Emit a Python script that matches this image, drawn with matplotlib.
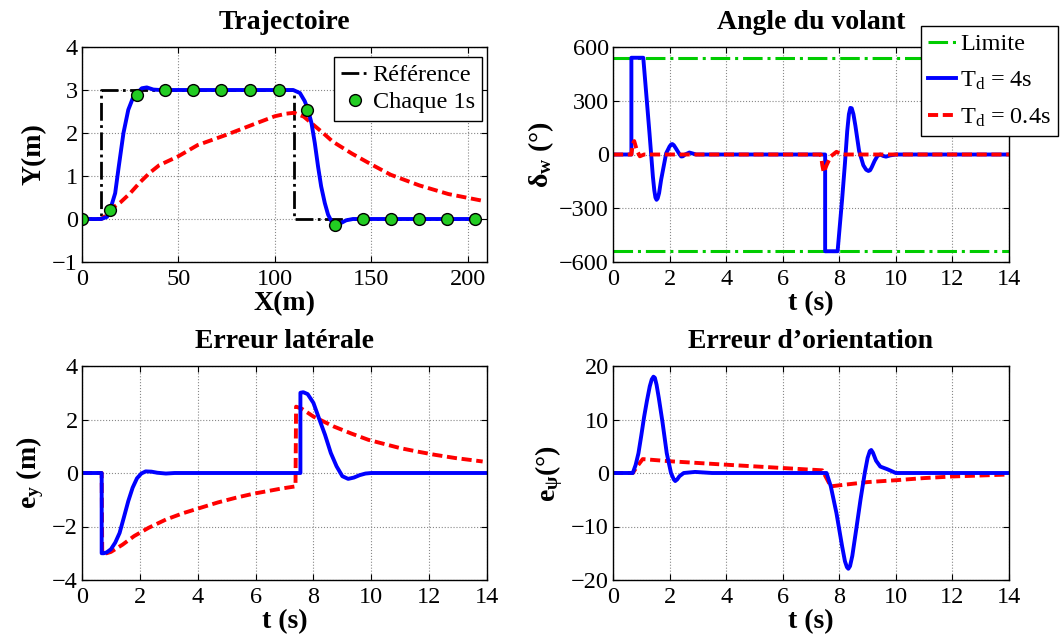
import matplotlib
matplotlib.use("Agg")
import matplotlib.pyplot as plt

plt.rcParams['font.family'] = ['Liberation Serif', 'DejaVu Serif']
plt.rcParams['mathtext.fontset'] = 'custom'
plt.rcParams['mathtext.rm'] = 'Liberation Serif'
plt.rcParams['mathtext.it'] = 'Liberation Serif:italic'
plt.rcParams['mathtext.bf'] = 'Liberation Serif:bold'

# ---------------- Data ----------------
# Trajectory (X, Y in m)
ref_x = [0, 10, 10, 110, 110, 205]
ref_y = [0, 0, 3, 3, 0, 0]

traj_blue_x = [0, 10, 13, 14.7, 17.2, 19, 21.5, 24, 26.7, 28.4, 31, 33.6, 37, 40.5, 60, 100, 109.5,
               113, 115.5, 117.2, 119, 120.7, 122.4, 124, 125.9, 127.6, 129.3, 131, 133.6, 137, 140.5, 160, 205]
traj_blue_y = [0, 0, 0.05, 0.23, 0.6, 1.2, 2.0, 2.54, 2.85, 2.92, 3.04, 3.06, 3.01, 3.0, 3.0, 3.0, 3.0,
               2.93, 2.74, 2.54, 2.23, 1.77, 1.22, 0.76, 0.37, 0.1, -0.05, -0.13, -0.11, -0.03, 0, 0, 0]

traj_red_x = [0, 10, 12, 15, 20, 25, 30, 35, 40, 50, 60, 75, 90, 100, 106, 110, 115, 120, 125, 130,
              140, 150, 160, 175, 190, 207]
traj_red_y = [0, 0, 0.07, 0.23, 0.39, 0.6, 0.85, 1.07, 1.25, 1.46, 1.72, 1.96, 2.22, 2.39, 2.45, 2.47,
              2.38, 2.19, 2.0, 1.80, 1.52, 1.27, 1.03, 0.78, 0.58, 0.43]

dots_x = [0, 14.6, 28.5, 43, 57.5, 72, 87, 102, 116.5, 131, 145.5, 160, 174.5, 189, 204]
dots_y = [0, 0.22, 2.88, 3.0, 3.0, 3.0, 3.0, 3.0, 2.53, -0.13, 0, 0, 0, 0, 0]

# Steering wheel angle (deg)
limit_t = [0, 14]
limit_hi = [540, 540]
limit_lo = [-540, -540]

dw_blue_t = [0, 0.65, 0.65, 1.07, 1.18, 1.29, 1.41, 1.46, 1.50, 1.54, 1.58, 1.63, 1.7, 1.88, 2.0,
             2.06, 2.1, 2.15, 2.22, 2.29, 2.35, 2.41, 2.47, 2.55, 2.7, 2.94,
             7.5, 7.5, 7.94, 8.1, 8.2, 8.28, 8.34, 8.39, 8.44, 8.5, 8.57, 8.7, 8.85, 8.95, 9.03,
             9.09, 9.15, 9.25, 9.35, 9.45, 9.55, 9.65, 9.8, 10.0, 14]
dw_blue_v = [0, 0, 540, 540, 330, 119, -123, -200, -240, -253, -245, -215, -142, 7, 45,
             57, 58, 52, 35, 17, 2, -11, -10, 0, 11, 0,
             0, -540, -540, -250, -50, 130, 225, 260, 258, 225, 160, 20, -60, -85, -92,
             -88, -70, -35, -8, 0, -8, -12, -5, 0, 0]

dw_red_t = [0, 0.65, 0.7, 0.75, 0.85, 0.95, 1.1, 7.35, 7.4, 7.45, 7.55, 7.7, 7.9, 8.1, 14]
dw_red_v = [0, 0, 60, 75, 20, -10, 0, 0, -60, -100, -60, -10, 15, 0, 0]

# Lateral error (m)
ey_blue_t = [0, 0.68, 0.68, 0.75, 0.85, 1.0, 1.15, 1.3, 1.45, 1.6, 1.75, 1.9, 2.05, 2.2, 2.4, 2.6,
             2.9, 3.2, 7.55, 7.55, 7.65, 7.8, 8.0, 8.2, 8.4, 8.6, 8.8, 9.0, 9.2, 9.4, 9.6, 9.8, 10.0, 14]
ey_blue_v = [0, 0, -3.0, -3.0, -2.97, -2.85, -2.6, -2.24, -1.65, -1.05, -0.55, -0.2, -0.02, 0.06,
             0.05, 0.01, -0.02, 0, 0, 3.0, 3.02, 2.95, 2.62, 2.02, 1.43, 0.75, 0.25, -0.12, -0.22,
             -0.17, -0.08, -0.02, 0, 0]

ey_red_t = [0, 0.68, 0.7, 0.85, 1.0, 1.4, 1.8, 2.3, 2.9, 3.5, 4.1, 4.7, 5.3, 5.9, 6.4, 6.9, 7.38,
            7.4, 7.6, 8.0, 8.7, 9.3, 9.9, 10.5, 11.0, 11.6, 12.2, 12.9, 13.85]
ey_red_v = [0, 0, -3.0, -3.0, -2.95, -2.68, -2.36, -2.05, -1.74, -1.5, -1.3, -1.1, -0.93, -0.78,
            -0.68, -0.58, -0.5, 2.48, 2.4, 2.11, 1.74, 1.48, 1.24, 1.07, 0.93, 0.8, 0.68, 0.56, 0.43]

# Heading error (deg)
epsi_blue_t = [0, 0.7, 0.8, 0.9, 1.0, 1.1, 1.2, 1.3, 1.37, 1.43, 1.48, 1.54, 1.62, 1.75, 1.9, 2.05,
               2.15, 2.2, 2.27, 2.35, 2.5, 2.9, 3.5,
               7.55, 7.7, 7.9, 8.1, 8.2, 8.27, 8.32, 8.38, 8.46, 8.6, 8.75, 8.9, 9.0, 9.08, 9.13,
               9.19, 9.3, 9.45, 9.7, 10.0, 14]
epsi_blue_v = [0, 0, 1.5, 3.7, 7.0, 10.5, 13.5, 16.2, 17.5, 18.0, 17.8, 16.5, 14.0, 9.5, 3.7, 0,
               -1.2, -1.5, -1.2, -0.6, 0, 0.2, 0,
               0, -2.5, -7.5, -13.7, -16.5, -17.6, -17.9, -17.4, -15.5, -10.5, -5.0, 0, 2.8, 4.1, 4.3,
               3.8, 2.3, 1.2, 0.7, 0, 0]

epsi_red_t = [0, 0.7, 0.85, 1.05, 2.0, 4.0, 6.0, 7.4, 7.55, 7.7, 8.0, 9.0, 10.0, 11.0, 12.0, 13.9]
epsi_red_v = [0, 0, 1.2, 2.6, 2.2, 1.55, 0.93, 0.5, -1.0, -2.5, -2.3, -1.7, -1.35, -0.95, -0.65, -0.3]

# Labels
titles = ["Trajectoire", "Angle du volant", "Erreur latérale", "Erreur d\u2019orientation"]

# ---------------- Figure ----------------
fig = plt.figure(figsize=(10.64, 6.36), dpi=100)

W, H = 1064, 636
def box(l, t, r, b):
    return [l / W, 1 - b / H, (r - l) / W, (b - t) / H]

ax1 = fig.add_axes(box(82, 47, 487, 262))
ax2 = fig.add_axes(box(613, 47, 1009, 262))
ax3 = fig.add_axes(box(82, 366, 487, 580))
ax4 = fig.add_axes(box(613, 366, 1009, 580))

BLUE = '#0000ff'
RED = '#ff0000'
GREEN = '#00cc00'
LW = 2.8
TICK_FS = 17.5
LAB_FS = 20
TITLE_PAD = 13
XPAD = 1

def style(ax):
    ax.grid(True, linestyle=':', color='#888888', linewidth=0.8)
    ax.tick_params(direction='in', top=True, right=True, labelsize=TICK_FS, length=4)
    ax.tick_params(axis='x', pad=5)
    ax.tick_params(axis='y', pad=3)
    for s in ax.spines.values():
        s.set_linewidth(1.0)

red_dash = (0, (2.6, 1.2))

leg_kw = dict(fontsize=TICK_FS, fancybox=False, edgecolor='black', framealpha=1,
              handlelength=1.15, handletextpad=0.15, borderpad=0.3, borderaxespad=0)

# Trajectory
ax1.plot(ref_x, ref_y, color='black', linestyle='-.', linewidth=2.0, label='Référence')
ax1.plot(traj_red_x, traj_red_y, color=RED, linestyle=red_dash, linewidth=LW)
ax1.plot(traj_blue_x, traj_blue_y, color=BLUE, linewidth=LW)
ax1.plot(dots_x, dots_y, linestyle='none', marker='o', markersize=8.5, markerfacecolor='#22cc22',
         markeredgecolor='black', markeredgewidth=1.0, label='Chaque 1s')
ax1.set_xlim(0, 210)
ax1.set_ylim(-1, 4)
ax1.set_xticks([0, 50, 100, 150, 200])
ax1.set_yticks([-1, 0, 1, 2, 3, 4])
ax1.set_title(titles[0], fontsize=LAB_FS, fontweight='bold', pad=TITLE_PAD)
ax1.set_xlabel('X(m)', fontsize=LAB_FS, fontweight='bold', labelpad=XPAD)
ax1.set_ylabel('Y(m)', fontsize=LAB_FS, fontweight='bold', labelpad=4)
style(ax1)
leg1 = ax1.legend(loc='upper right', bbox_to_anchor=(0.988, 0.953), labelspacing=0.2, **leg_kw)
leg1.get_frame().set_linewidth(1.0)

# Steering angle
ax2.plot(limit_t, limit_hi, color=GREEN, linestyle='-.', linewidth=2.2, label='Limite')
ax2.plot(limit_t, limit_lo, color=GREEN, linestyle='-.', linewidth=2.2)
ax2.plot(dw_blue_t, dw_blue_v, color=BLUE, linewidth=LW, label=r'T$_\mathrm{d}$ = 4s')
ax2.plot(dw_red_t, dw_red_v, color=RED, linestyle=red_dash, linewidth=LW, label=r'T$_\mathrm{d}$ = 0.4s')
ax2.set_xlim(0, 14)
ax2.set_ylim(-600, 600)
ax2.set_xticks(range(0, 15, 2))
ax2.set_yticks([-600, -300, 0, 300, 600])
ax2.set_title(titles[1], fontsize=LAB_FS, fontweight='bold', pad=TITLE_PAD)
ax2.set_xlabel('t (s)', fontsize=LAB_FS, fontweight='bold', labelpad=XPAD)
ax2.set_ylabel(r'$\mathbf{\delta_w}$ (°)', fontsize=LAB_FS, fontweight='bold', labelpad=2)
style(ax2)
leg2 = ax2.legend(loc='upper left', bbox_to_anchor=(0.778, 1.098), labelspacing=0.6, **leg_kw)
leg2.get_frame().set_linewidth(1.0)

# Lateral error
ax3.plot(ey_red_t, ey_red_v, color=RED, linestyle=red_dash, linewidth=LW)
ax3.plot(ey_blue_t, ey_blue_v, color=BLUE, linewidth=LW)
ax3.set_xlim(0, 14)
ax3.set_ylim(-4, 4)
ax3.set_xticks(range(0, 15, 2))
ax3.set_yticks([-4, -2, 0, 2, 4])
ax3.set_title(titles[2], fontsize=LAB_FS, fontweight='bold', pad=TITLE_PAD)
ax3.set_xlabel('t (s)', fontsize=LAB_FS, fontweight='bold', labelpad=XPAD)
ax3.set_ylabel(r'$\mathbf{e_y}$ (m)', fontsize=LAB_FS, fontweight='bold', labelpad=4)
style(ax3)

# Heading error
ax4.plot(epsi_red_t, epsi_red_v, color=RED, linestyle=red_dash, linewidth=LW)
ax4.plot(epsi_blue_t, epsi_blue_v, color=BLUE, linewidth=LW)
ax4.set_xlim(0, 14)
ax4.set_ylim(-20, 20)
ax4.set_xticks(range(0, 15, 2))
ax4.set_yticks([-20, -10, 0, 10, 20])
ax4.set_title(titles[3], fontsize=LAB_FS, fontweight='bold', pad=TITLE_PAD)
ax4.set_xlabel('t (s)', fontsize=LAB_FS, fontweight='bold', labelpad=XPAD)
ax4.set_ylabel(r'$\mathbf{e_\psi}$(°)', fontsize=LAB_FS, fontweight='bold', labelpad=4)
style(ax4)

fig.savefig('out.png', dpi=100)
